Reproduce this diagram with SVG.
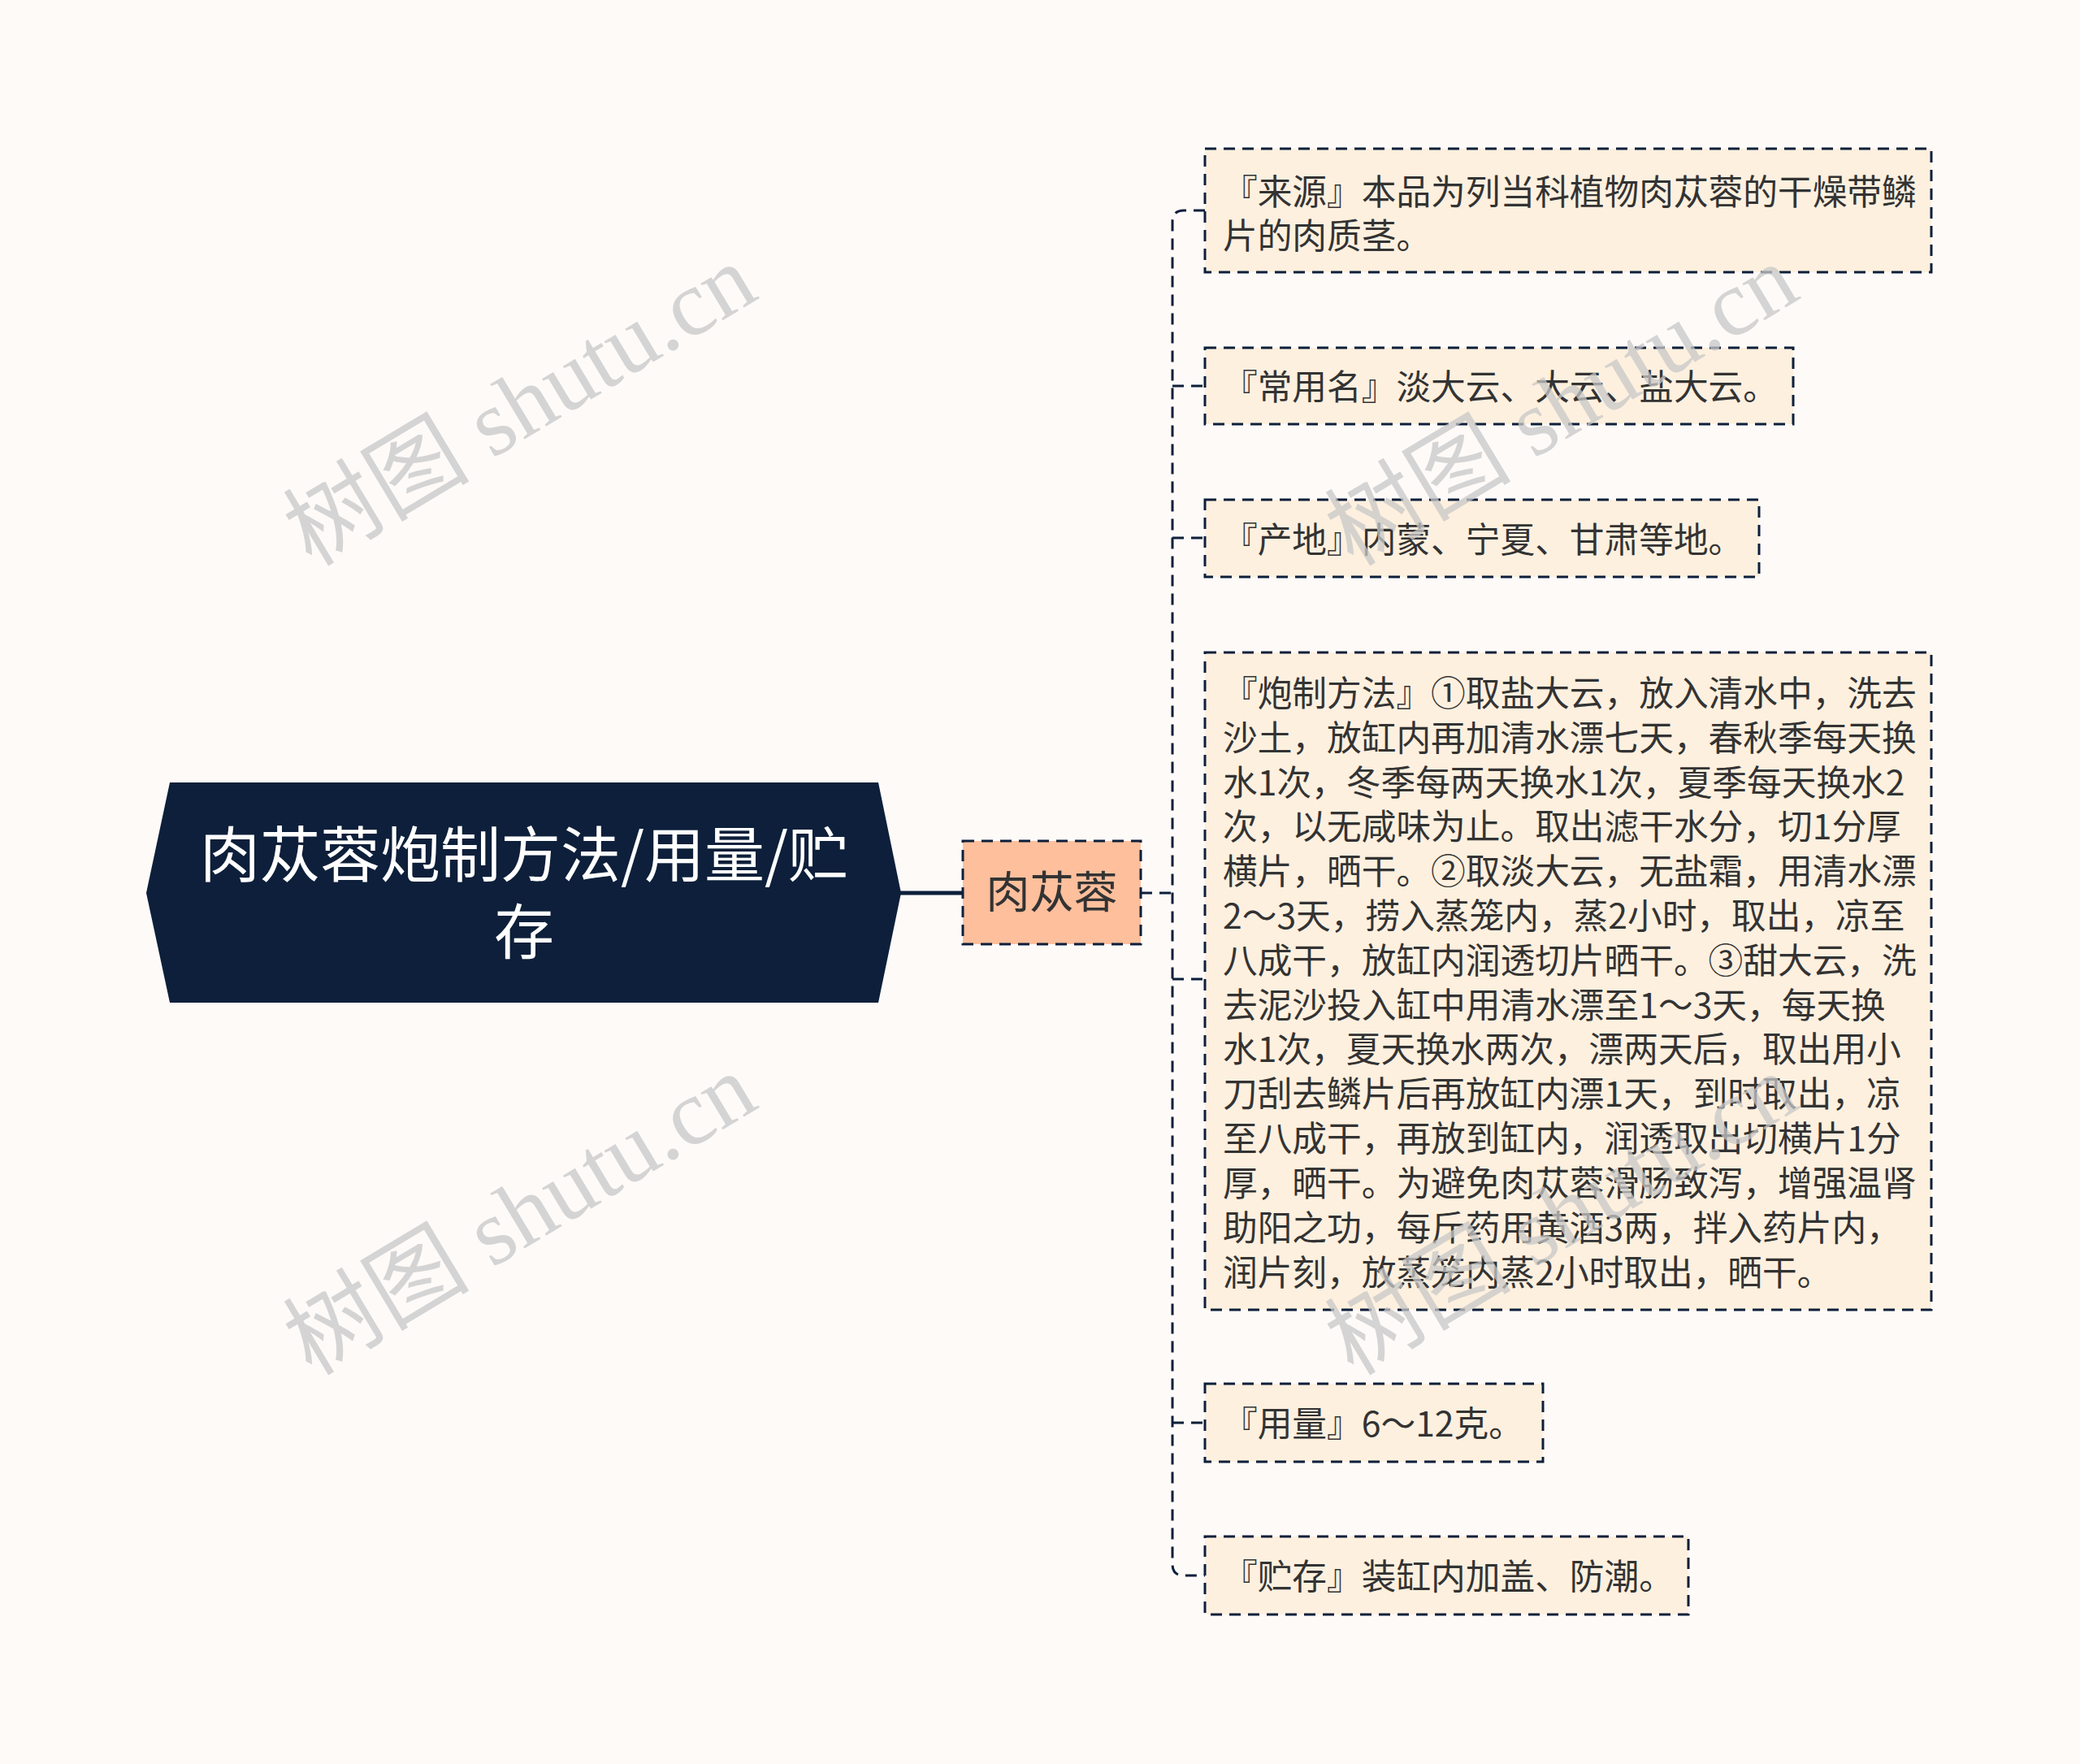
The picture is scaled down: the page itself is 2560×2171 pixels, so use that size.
<svg xmlns="http://www.w3.org/2000/svg" width="2560" height="2171" viewBox="0 0 2560 2171">
<style>
.bg{fill:#FEFAF8}
.leaf{fill:#FEF0DF;stroke:#0D1F3A;stroke-width:3;stroke-dasharray:14 9}
.sub{fill:#FDBF9C;stroke:#0D1F3A;stroke-width:3;stroke-dasharray:14 9}
.t{font-family:"Noto Sans CJK SC","Noto Sans",sans-serif;fill:#333333;font-size:42.7px}
.rt{font-family:"Noto Sans CJK SC","Noto Sans",sans-serif;fill:#FFFFFF;font-size:74px;text-anchor:middle}
.st{font-family:"Noto Sans CJK SC","Noto Sans",sans-serif;fill:#333333;font-size:54px;text-anchor:middle}
.c{fill:none;stroke:#0D1F3A;stroke-width:3;stroke-dasharray:14 9}
.wm{font-family:"Liberation Serif","Noto Sans CJK SC",serif;fill:#C8C8C8;font-size:115px;opacity:0.75}
</style>
<rect class="bg" x="0" y="0" width="2560" height="2171"/>
<g id="connectors">
<line x1="1107" y1="1099" x2="1185" y2="1099" stroke="#0D1F3A" stroke-width="5"/>
<line class="c" x1="1404" y1="1099" x2="1443" y2="1099"/>
<path class="c" d="M1483 259 H1457 Q1443 259 1443 273 V1925 Q1443 1939 1457 1939 H1483"/>
<line class="c" x1="1443" y1="475" x2="1483" y2="475"/>
<line class="c" x1="1443" y1="662" x2="1483" y2="662"/>
<line class="c" x1="1443" y1="1205" x2="1483" y2="1205"/>
<line class="c" x1="1443" y1="1751" x2="1483" y2="1751"/>
</g>
<g id="root">
<polygon points="180,1099 209,963 1081,963 1109,1099 1081,1234 209,1234" fill="#0D1F3A"/>
<text class="rt" x="645" y="1079">肉苁蓉炮制方法/用量/贮</text>
<text class="rt" x="645" y="1174">存</text>
</g>
<g id="sub">
<rect class="sub" x="1185" y="1035" width="219" height="127"/>
<text class="st" x="1294.5" y="1118">肉苁蓉</text>
</g>
<g id="leaf1">
<rect class="leaf" x="1483" y="183" width="894" height="152"/>
<text class="t" x="1505" y="252">『来源』本品为列当科植物肉苁蓉的干燥带鳞</text>
<text class="t" x="1505" y="306">片的肉质茎。</text>
</g>
<g id="leaf2">
<rect class="leaf" x="1483" y="428" width="724" height="94"/>
<text class="t" x="1505" y="492">『常用名』淡大云、大云、盐大云。</text>
</g>
<g id="leaf3">
<rect class="leaf" x="1483" y="615" width="682" height="95"/>
<text class="t" x="1505" y="680">『产地』内蒙、宁夏、甘肃等地。</text>
</g>
<g id="leaf4">
<rect class="leaf" x="1483" y="803" width="894" height="809"/>
<text class="t" x="1505" y="869">『炮制方法』①取盐大云，放入清水中，洗去</text>
<text class="t" x="1505" y="924">沙土，放缸内再加清水漂七天，春秋季每天换</text>
<text class="t" x="1505" y="979">水1次，冬季每两天换水1次，夏季每天换水2</text>
<text class="t" x="1505" y="1033">次，以无咸味为止。取出滤干水分，切1分厚</text>
<text class="t" x="1505" y="1088">横片，晒干。②取淡大云，无盐霜，用清水漂</text>
<text class="t" x="1505" y="1143">2～3天，捞入蒸笼内，蒸2小时，取出，凉至</text>
<text class="t" x="1505" y="1198">八成干，放缸内润透切片晒干。③甜大云，洗</text>
<text class="t" x="1505" y="1253">去泥沙投入缸中用清水漂至1～3天，每天换</text>
<text class="t" x="1505" y="1307">水1次，夏天换水两次，漂两天后，取出用小</text>
<text class="t" x="1505" y="1362">刀刮去鳞片后再放缸内漂1天，到时取出，凉</text>
<text class="t" x="1505" y="1417">至八成干，再放到缸内，润透取出切横片1分</text>
<text class="t" x="1505" y="1472">厚，晒干。为避免肉苁蓉滑肠致泻，增强温肾</text>
<text class="t" x="1505" y="1527">助阳之功，每斤药用黄酒3两，拌入药片内，</text>
<text class="t" x="1505" y="1582">润片刻，放蒸笼内蒸2小时取出，晒干。</text>
</g>
<g id="leaf5">
<rect class="leaf" x="1483" y="1703" width="416" height="96"/>
<text class="t" x="1505" y="1768">『用量』6～12克。</text>
</g>
<g id="leaf6">
<rect class="leaf" x="1483" y="1891" width="595" height="96"/>
<text class="t" x="1505" y="1956">『贮存』装缸内加盖、防潮。</text>
</g>
<g id="watermarks">
<text class="wm" x="660" y="532" text-anchor="middle" transform="rotate(-31 660 532)">树图 shutu.cn</text>
<text class="wm" x="1942" y="532" text-anchor="middle" transform="rotate(-31 1942 532)">树图 shutu.cn</text>
<text class="wm" x="660" y="1528" text-anchor="middle" transform="rotate(-31 660 1528)">树图 shutu.cn</text>
<text class="wm" x="1942" y="1528" text-anchor="middle" transform="rotate(-31 1942 1528)">树图 shutu.cn</text>
</g>
</svg>
